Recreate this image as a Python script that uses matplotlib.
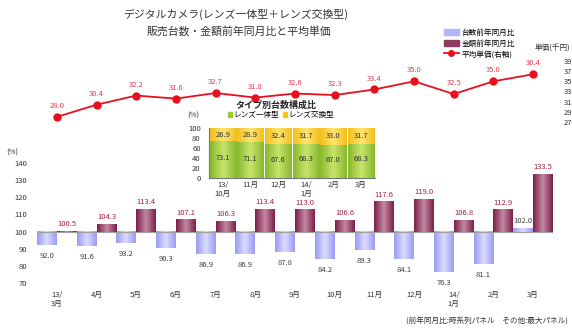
import numpy as np
import matplotlib
matplotlib.use("Agg")
import matplotlib.pyplot as plt
from matplotlib.colors import LinearSegmentedColormap
from matplotlib.lines import Line2D
from matplotlib.patches import Patch

plt.rcParams['font.family'] = ['Noto Sans CJK JP', 'DejaVu Sans']

# ---- data ----
months = ['13/\n3月', '4月', '5月', '6月', '7月', '8月', '9月',
          '10月', '11月', '12月', '14/\n1月', '2月', '3月']
unit_yoy = [92.0, 91.6, 93.2, 90.3, 86.9, 86.9, 87.8, 84.2, 89.3, 84.1, 76.3, 81.1, 102.0]
value_yoy = [100.5, 104.3, 113.4, 107.1, 106.3, 113.4, 113.0, 106.6, 117.6, 119.0, 106.8, 112.9, 133.5]
avg_price = [28.0, 30.4, 32.2, 31.6, 32.7, 31.8, 32.6, 32.3, 33.4, 35.0, 32.5, 35.0, 36.4]

mix_months = ['13/\n10月', '11月', '12月', '14/\n1月', '2月', '3月']
mix_compact = [73.1, 71.1, 67.6, 68.3, 67.0, 68.3]
mix_interchangeable = [26.9, 28.9, 32.4, 31.7, 33.0, 31.7]

W, H = 572, 335
fig = plt.figure(figsize=(W / 100, H / 100), dpi=100)


def fbox(x0, y0, x1, y1):
    """pixel box (top-left origin) -> figure fraction rect"""
    return [x0 / W, 1 - y1 / H, (x1 - x0) / W, (y1 - y0) / H]


def lims(v0, p0, v1, p1, top, bottom):
    """axis limits so that value v0 sits at pixel row p0 and v1 at p1"""
    k = (v1 - v0) / (p0 - p1)
    return v0 - (bottom - p0) * k, v0 + (p0 - top) * k


def shade(ax, bars, edge, mid, z=2):
    cmap = LinearSegmentedColormap.from_list('cyl', [edge, mid, edge])
    grad = np.linspace(0, 1, 64).reshape(1, -1)
    for b in bars:
        x0, y0 = b.get_x(), b.get_y()
        x1, y1 = x0 + b.get_width(), y0 + b.get_height()
        ax.imshow(grad, cmap=cmap, extent=(x0, x1, min(y0, y1), max(y0, y1)),
                  aspect='auto', origin='lower', zorder=z, interpolation='bicubic')


TOP, BOT = 55, 288
ax = fig.add_axes(fbox(37, TOP, 553, BOT))
ax2 = ax.twinx()
ax.set_zorder(1)
ax2.set_zorder(2)
ax.patch.set_visible(False)
ax2.patch.set_visible(False)

x = np.arange(len(months))
w = 0.5
base = 100
b_unit = ax.bar(x - w / 2, np.array(unit_yoy) - base, w, bottom=base, color='none')
b_value = ax.bar(x + w / 2, np.array(value_yoy) - base, w, bottom=base, color='none')
shade(ax, b_unit, '#9a9af2', '#dcdcff')
shade(ax, b_value, '#7c1e48', '#c48aa4')
ax.axhline(base, color='#a0a0a0', lw=0.8, zorder=3)

for xi, v in zip(x, unit_yoy):
    off, va = (-5, 'top') if v < base else (2, 'bottom')
    ax.annotate(f'{v:.1f}', (xi - w / 2, v), xytext=(0, off), textcoords='offset points',
                ha='center', va=va, fontsize=5.5, color='#404040', zorder=4)
for xi, v in zip(x, value_yoy):
    ax.annotate(f'{v:.1f}', (xi + w / 2, v), xytext=(0, 2), textcoords='offset points',
                ha='center', va='bottom', fontsize=5.5, color='#a8203e', zorder=4)

ax.set_xlim(-0.5, len(months) - 0.5)
ax.set_ylim(*lims(70, 283, 140, 163, TOP, BOT))
ax.set_yticks(range(70, 141, 10))
ax.set_xticks(x)
ax.set_xticklabels(months, linespacing=1.25)
ax.tick_params(axis='both', length=0, labelsize=5.5, colors='#333333')
ax.tick_params(axis='y', pad=7)
ax.tick_params(axis='x', pad=2)
for s in ax.spines.values():
    s.set_visible(False)

ax2.plot(x, avg_price, color='#e8101c', lw=1.3, marker='o', ms=5, zorder=5)
for xi, v in zip(x, avg_price):
    ax2.annotate(f'{v:.1f}', (xi, v), xytext=(0, 5), textcoords='offset points',
                 ha='center', va='bottom', fontsize=5.5, color='#e83a50')
ax2.set_ylim(*lims(27, 122, 39, 61, TOP, BOT))
ax2.set_yticks(range(27, 40, 2))
ax2.tick_params(axis='y', length=0, labelsize=5.5, colors='#333333', pad=8)
for s in ax2.spines.values():
    s.set_visible(False)

# ---- composition inset ----
ins = fig.add_axes(fbox(209, 128, 375, 178))
ins.set_zorder(3)
ins.patch.set_visible(False)
xm = np.arange(len(mix_months))
bw = 0.94
b_c = ins.bar(xm, mix_compact, bw, color='none')
b_i = ins.bar(xm, mix_interchangeable, bw, bottom=mix_compact, color='none')
shade(ins, b_c, '#86b82c', '#c8e46c')
shade(ins, b_i, '#f2bf1c', '#ffe470')
for xi, c, i in zip(xm, mix_compact, mix_interchangeable):
    ins.text(xi, c / 2 + 3, f'{c:.1f}', ha='center', va='center', fontsize=5.5, color='#333333', zorder=4)
    ins.text(xi, c + i / 2, f'{i:.1f}', ha='center', va='center', fontsize=5.5, color='#333333', zorder=4)
ins.set_xlim(-0.5, len(mix_months) - 0.5)
ins.set_ylim(0, 100)
ins.set_yticks(range(0, 101, 20))
ins.set_xticks(xm)
ins.set_xticklabels(mix_months, linespacing=1.25)
ins.tick_params(axis='both', length=0, labelsize=5.5, colors='#333333')
ins.tick_params(axis='y', pad=6)
ins.tick_params(axis='x', pad=2)
for k in ('top', 'right'):
    ins.spines[k].set_visible(False)
for k in ('left', 'bottom'):
    ins.spines[k].set_color('#777777')
    ins.spines[k].set_linewidth(0.8)

fig.text(276 / W, 1 - 105 / H, 'タイプ別台数構成比', ha='center', va='center',
         fontsize=6.5, fontweight='bold', color='#222222')
ins_leg = fig.legend(handles=[Patch(color='#9acd32'), Patch(color='#f5c518')],
                     labels=['レンズ一体型', 'レンズ交換型'], loc='center',
                     bbox_to_anchor=(281 / W, 1 - 115 / H), ncol=2, frameon=False,
                     fontsize=5.5, handlelength=0.5, handleheight=0.7,
                     handletextpad=0.1, columnspacing=0.6, borderpad=0)
fig.text(193 / W, 1 - 116 / H, '(%)', ha='center', va='center', fontsize=5.5, color='#333333')

# ---- titles and notes ----
fig.text(236 / W, 1 - 14 / H, 'デジタルカメラ(レンズ一体型＋レンズ交換型)',
         ha='center', va='center', fontsize=7.8, color='#333333')
fig.text(239 / W, 1 - 31 / H, '販売台数・金額前年同月比と平均単価',
         ha='center', va='center', fontsize=7.8, color='#333333')
fig.text(12 / W, 1 - 153 / H, '(%)', ha='center', va='center', fontsize=5.5, color='#333333')
fig.text(535 / W, 1 - 49 / H, '単価(千円)', ha='left', va='center', fontsize=5.5, color='#333333')
fig.text(568 / W, 1 - 322 / H, '(前年同月比:時系列パネル　その他:最大パネル)',
         ha='right', va='center', fontsize=5.5, color='#333333')

handles = [Patch(color='#b4b4fa'), Patch(color='#8c3a60'),
           Line2D([], [], color='#e8101c', lw=1.3, marker='o', ms=4)]
fig.legend(handles=handles, labels=['台数前年同月比', '金額前年同月比', '平均単価(右軸)'],
           loc='upper left', bbox_to_anchor=(440 / W, 1 - 25 / H), frameon=False,
           fontsize=5.5, handlelength=2.0, handleheight=0.8, handletextpad=0.3,
           labelspacing=0.35, borderpad=0)

fig.savefig('out.png', dpi=100)
